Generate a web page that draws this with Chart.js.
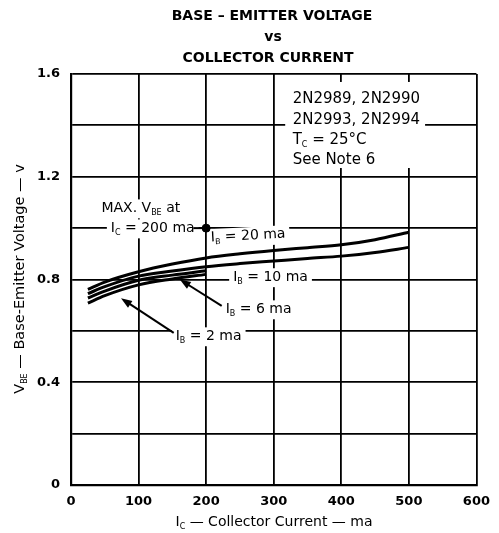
<!DOCTYPE html>
<html>
<head>
<meta charset="utf-8">
<script src="https://cdn.jsdelivr.net/npm/chart.js@4"></script>
<style>
  html, body { margin: 0; padding: 0; background: #fff; }
  canvas { display: block; }
</style>
</head>
<body>
<canvas id="c" width="499" height="533"></canvas>
<script>
// ---- data ----
const titleLines = ['BASE – EMITTER VOLTAGE', 'vs', 'COLLECTOR CURRENT'];
const xTicks = [0, 100, 200, 300, 400, 500, 600];
const yTicks = [0, 0.4, 0.8, 1.2, 1.6];
const icLong = [25, 50, 100, 150, 200, 250, 300, 350, 400, 450, 500];
const icShort = [25, 50, 100, 150, 200];
const vbeIb20 = [0.762, 0.790, 0.830, 0.860, 0.884, 0.900, 0.913, 0.924, 0.935, 0.955, 0.984];
const vbeIb10 = [0.745, 0.772, 0.813, 0.833, 0.850, 0.862, 0.872, 0.882, 0.891, 0.905, 0.925];
const vbeIb6 = [0.728, 0.755, 0.797, 0.817, 0.834];
const vbeIb2 = [0.708, 0.737, 0.779, 0.802, 0.820];
const maxPointIc = [200];
const maxPointVbe = [1.0];
const noteLines = ['2N2989, 2N2990', '2N2993, 2N2994', 'T_C = 25°C', 'See Note 6'];

const FONT = '"DejaVu Sans", "Liberation Sans", sans-serif';

function pts(xs, ys) { return xs.map((x, i) => ({ x: x, y: ys[i] })); }

// "V_BE at" -> [{t:'V'},{t:'BE',sub:true},{t:' at'}]
function parse(str) {
  const parts = [];
  const re = /_([A-Z]+)/g;
  let last = 0, m;
  while ((m = re.exec(str)) !== null) {
    if (m.index > last) parts.push({ t: str.slice(last, m.index) });
    parts.push({ t: m[1], sub: true });
    last = m.index + m[0].length;
  }
  if (last < str.length) parts.push({ t: str.slice(last) });
  return parts;
}
function subSize(size) { return Math.round(size * 0.55); }
function richWidth(ctx, parts, size, weight) {
  let w = 0;
  for (const p of parts) {
    ctx.font = (weight || '') + ' ' + (p.sub ? subSize(size) : size) + 'px ' + FONT;
    w += ctx.measureText(p.t).width;
  }
  return w;
}
function drawRich(ctx, parts, x, y, size, weight) {
  let cx = x;
  ctx.textBaseline = 'middle';
  ctx.textAlign = 'left';
  for (const p of parts) {
    ctx.font = (weight || '') + ' ' + (p.sub ? subSize(size) : size) + 'px ' + FONT;
    ctx.fillText(p.t, cx, p.sub ? y + size * 0.33 : y);
    cx += ctx.measureText(p.t).width;
  }
  return cx - x;
}

// annotation positions in data units
const labels = [
  { text: 'MAX. V_BE at', x: 45, y: 1.078, size: 14, padL: 4 },
  { text: 'I_C = 200 ma', x: 59, y: 1.0, size: 14, padL: 4 },
  { text: 'I_B = 20 ma', x: 207, y: 0.962, size: 14, rot: -3, padL: 1 },
  { text: 'I_B = 10 ma', x: 240, y: 0.81, size: 14, padL: 4 },
  { text: 'I_B = 6 ma', x: 229, y: 0.685, size: 14, padL: 4 },
  { text: 'I_B = 2 ma', x: 155, y: 0.58, size: 14, padL: 4 }
];
const arrows = [
  { x1: 223, y1: 0.697, x2: 161, y2: 0.800 },
  { x1: 152, y1: 0.592, x2: 74, y2: 0.727 }
];
const leaders = [
  { x1: 181, y1: 1.0, x2: 200, y2: 1.0 }
];
const noteBox = { x1: 317, x2: 524, y1: 1.569, y2: 1.234 };
const noteX = 328;
const noteY = [1.503, 1.421, 1.343, 1.265];

const annot = {
  id: 'annot',
  beforeDatasetsDraw(chart) {
    const ctx = chart.ctx;
    const xs = chart.scales.x, ys = chart.scales.y;
    ctx.save();
    ctx.fillStyle = '#fff';
    const bx1 = xs.getPixelForValue(noteBox.x1), bx2 = Math.min(xs.getPixelForValue(noteBox.x2), chart.chartArea.right - 2);
    const by1 = ys.getPixelForValue(noteBox.y1), by2 = ys.getPixelForValue(noteBox.y2);
    ctx.fillRect(bx1, by1, bx2 - bx1, by2 - by1);
    ctx.fillStyle = '#000';
    noteLines.forEach((ln, i) => {
      drawRich(ctx, parse(ln), xs.getPixelForValue(noteX), ys.getPixelForValue(noteY[i]), 15);
    });
    for (const l of labels) {
      const parts = parse(l.text);
      const px = xs.getPixelForValue(l.x), py = ys.getPixelForValue(l.y);
      const w = richWidth(ctx, parts, l.size);
      ctx.save();
      ctx.translate(px, py);
      if (l.rot) ctx.rotate(l.rot * Math.PI / 180);
      ctx.fillStyle = '#fff';
      ctx.fillRect(-l.padL, -l.size * 0.62, w + l.padL + 4, l.size * 1.35);
      ctx.fillStyle = '#000';
      drawRich(ctx, parts, 0, 0, l.size);
      ctx.restore();
    }
    ctx.restore();
  },
  afterDatasetsDraw(chart) {
    const ctx = chart.ctx;
    const xs = chart.scales.x, ys = chart.scales.y;
    ctx.save();
    ctx.strokeStyle = '#000';
    ctx.fillStyle = '#000';
    ctx.lineWidth = 2;
    for (const a of leaders) {
      ctx.beginPath();
      ctx.moveTo(xs.getPixelForValue(a.x1), ys.getPixelForValue(a.y1));
      ctx.lineTo(xs.getPixelForValue(a.x2), ys.getPixelForValue(a.y2));
      ctx.stroke();
    }
    for (const a of arrows) {
      const x1 = xs.getPixelForValue(a.x1), y1 = ys.getPixelForValue(a.y1);
      const x2 = xs.getPixelForValue(a.x2), y2 = ys.getPixelForValue(a.y2);
      const ang = Math.atan2(y2 - y1, x2 - x1);
      ctx.beginPath();
      ctx.moveTo(x1, y1);
      ctx.lineTo(x2 - 8 * Math.cos(ang), y2 - 8 * Math.sin(ang));
      ctx.stroke();
      ctx.beginPath();
      ctx.moveTo(x2, y2);
      ctx.lineTo(x2 - 11 * Math.cos(ang) + 4 * Math.sin(ang), y2 - 11 * Math.sin(ang) - 4 * Math.cos(ang));
      ctx.lineTo(x2 - 11 * Math.cos(ang) - 4 * Math.sin(ang), y2 - 11 * Math.sin(ang) + 4 * Math.cos(ang));
      ctx.closePath();
      ctx.fill();
    }
    ctx.restore();
  },
  afterDraw(chart) {
    const ctx = chart.ctx;
    const ca = chart.chartArea;
    ctx.save();
    ctx.fillStyle = '#000';
    ctx.textAlign = 'center';
    ctx.textBaseline = 'middle';
    ctx.font = 'bold 14px ' + FONT;
    ctx.fillText(titleLines[0], 272, 16);
    ctx.fillText(titleLines[1], 273, 37);
    ctx.fillText(titleLines[2], 268, 58);
    const xt = parse('I_C — Collector Current — ma');
    const wx = richWidth(ctx, xt, 14);
    drawRich(ctx, xt, 274 - wx / 2, 522, 14);
    const yt = parse('V_BE — Base-Emitter Voltage — v');
    const wy = richWidth(ctx, yt, 14.5);
    ctx.translate(20, 279);
    ctx.rotate(-Math.PI / 2);
    drawRich(ctx, yt, -wy / 2, 0, 14.5);
    ctx.restore();
  }
};

const curveStyle = { borderColor: '#000', borderWidth: 3, pointRadius: 0, showLine: true, fill: false, cubicInterpolationMode: 'monotone' };

new Chart(document.getElementById('c'), {
  type: 'scatter',
  data: {
    datasets: [
      Object.assign({ label: 'IB = 20 ma', data: pts(icLong, vbeIb20) }, curveStyle),
      Object.assign({ label: 'IB = 10 ma', data: pts(icLong, vbeIb10) }, curveStyle),
      Object.assign({ label: 'IB = 6 ma', data: pts(icShort, vbeIb6) }, curveStyle),
      Object.assign({ label: 'IB = 2 ma', data: pts(icShort, vbeIb2) }, curveStyle),
      { label: 'MAX VBE', data: pts(maxPointIc, maxPointVbe), pointRadius: 4, pointBackgroundColor: '#000', pointBorderColor: '#000', showLine: false }
    ]
  },
  options: {
    responsive: false,
    animation: false,
    devicePixelRatio: 1,
    layout: { padding: { top: 74, right: 19, left: 0, bottom: 0 } },
    plugins: { legend: { display: false }, tooltip: { enabled: false }, title: { display: false } },
    scales: {
      x: {
        type: 'linear', min: xTicks[0], max: xTicks[xTicks.length - 1],
        afterBuildTicks(s) { s.ticks = xTicks.map(v => ({ value: v })); },
        afterFit(s) { s.height = 48; },
        grid: { color: '#000', lineWidth: 1.8, drawTicks: false },
        border: { display: true, color: '#000', width: 2.2 },
        ticks: { color: '#000', padding: 9, font: { family: FONT, size: 13, weight: 'bold' }, maxRotation: 0, callback: v => String(v) }
      },
      y: {
        type: 'linear', min: 0, max: 1.6,
        afterBuildTicks(s) {
          const t = [];
          for (let i = 0; i <= 8; i++) t.push({ value: Math.round(i * 2) / 10 });
          s.ticks = t;
        },
        afterFit(s) { s.width = 71; },
        grid: { color: '#000', lineWidth: 1.8, drawTicks: false },
        border: { display: true, color: '#000', width: 2.2 },
        ticks: {
          color: '#000', padding: 11, font: { family: FONT, size: 13, weight: 'bold' },
          callback: v => {
            const hit = yTicks.find(t => Math.abs(t - v) < 1e-6);
            return hit === undefined ? '' : (hit === 0 ? '0' : hit.toFixed(1));
          }
        }
      }
    }
  },
  plugins: [annot]
});
</script>
</body>
</html>
